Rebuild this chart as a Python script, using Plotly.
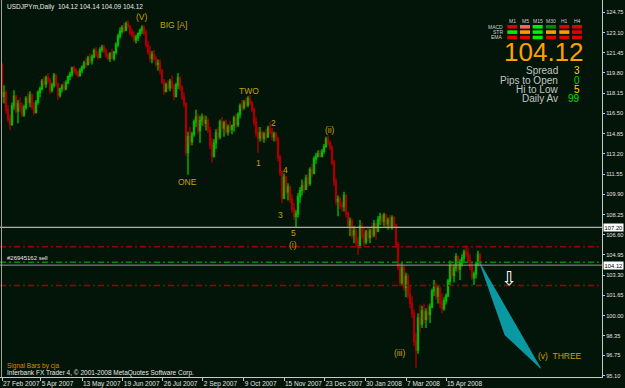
import plotly.graph_objects as go

# ---------------- data ----------------
FIRST_OPEN = 120.5
close = [
117.9, 118.2, 116.8, 116.0, 115.6, 117.1, 117.9, 116.7, 117.3, 117.0,
116.4, 117.0, 117.7, 117.4, 118.0, 117.0, 116.6, 117.4, 118.2, 118.5,
119.1, 118.9, 119.4, 119.2, 118.4, 118.8, 119.6, 118.9, 118.0, 118.5,
118.7, 118.5, 119.0, 119.5, 119.7, 120.2, 120.0, 119.8, 119.6, 120.0,
120.3, 120.6, 120.5, 121.0, 120.8, 121.1, 121.6, 121.3, 121.1, 121.7,
121.9, 121.6, 121.2, 121.0, 121.4, 121.0, 121.5, 122.1, 122.8, 123.2,
123.5, 123.3, 123.8, 123.6, 123.1, 122.9, 122.5, 122.7, 123.0, 123.3,
123.5, 123.1, 122.1, 121.5, 121.0, 121.3, 121.0, 120.5, 120.6, 120.0,
119.1, 118.3, 118.8, 118.6, 119.1, 118.7, 117.9, 118.8, 119.4, 118.6,
117.8, 117.3, 113.3, 114.6, 114.2, 114.8, 115.8, 116.2, 115.1, 115.9,
116.2, 115.7, 115.9, 115.1, 113.9, 113.0, 114.1, 114.9, 114.6, 115.8,
115.3, 115.7, 115.0, 115.4, 115.2, 115.5, 116.1, 115.6, 116.4, 117.1,
117.0, 117.4, 117.2, 117.7, 117.4, 116.8, 115.8, 114.9, 114.5, 114.9,
114.5, 114.8, 114.6, 115.3, 115.0, 114.6, 114.8, 114.4, 112.9, 111.7,
109.6, 111.3, 110.1, 110.5, 109.5, 108.7, 108.1, 108.3, 109.7, 110.2,
110.6, 110.3, 111.2, 110.8, 111.9, 111.6, 112.8, 113.0, 113.2, 113.0,
113.4, 113.8, 114.4, 114.1, 113.7, 112.5, 110.9, 109.3, 109.5, 109.0,
108.9, 109.8, 108.3, 107.4, 107.7, 106.6, 106.9, 106.0, 105.6, 107.3,
106.6, 106.0, 106.8, 106.4, 106.9, 106.6, 107.5, 106.9, 107.8, 108.1,
107.7, 108.2, 107.5, 107.8, 107.3, 108.0, 107.4, 105.8, 104.0, 102.7,
103.9, 102.3, 103.2, 101.7, 101.0, 100.2, 97.9, 97.2, 99.8, 99.3,
100.4, 99.7, 100.3, 100.1, 100.7, 102.0, 102.3, 101.6, 102.2, 101.0,
100.6, 101.2, 101.6, 102.8, 104.1, 103.3, 103.9, 104.8, 103.8, 104.3,
104.7, 105.2, 105.1, 104.5, 104.0, 103.1, 103.4, 104.2, 105.0, 104.12,
104.12]
high = [
120.6, 118.8, 118.4, 117.2, 116.4, 117.4, 118.4, 118.0, 117.6, 117.8,
117.4, 117.2, 117.9, 118.2, 118.3, 118.1, 117.4, 117.6, 118.4, 118.7,
119.3, 119.5, 119.6, 119.8, 119.4, 119.0, 119.8, 119.7, 119.0, 118.6,
118.9, 119.1, 119.2, 119.6, 119.9, 120.3, 120.4, 120.2, 120.0, 120.2,
120.4, 120.8, 121.0, 121.2, 121.4, 121.3, 121.8, 121.9, 121.6, 121.9,
122.1, 122.1, 121.8, 121.4, 121.5, 121.8, 121.6, 122.3, 123.0, 123.5,
123.7, 123.9, 124.0, 124.1, 123.7, 123.4, 123.2, 122.9, 123.1, 123.4,
123.7, 123.7, 123.3, 122.4, 122.0, 121.6, 121.7, 121.2, 120.9, 120.9,
120.1, 119.3, 119.0, 119.2, 119.3, 119.6, 118.9, 119.0, 119.8, 119.5,
118.8, 118.2, 117.4, 115.0, 115.4, 115.0, 116.0, 116.8, 116.5, 116.3,
116.5, 116.4, 116.3, 116.1, 115.4, 114.5, 114.4, 115.2, 115.4, 116.0,
116.2, 115.9, 116.0, 115.6, 115.9, 115.6, 116.3, 116.5, 116.6, 117.3,
117.6, 117.6, 117.8, 117.9, 118.0, 117.5, 117.0, 116.2, 115.4, 115.4,
115.1, 115.0, 115.2, 115.5, 115.8, 115.3, 115.0, 115.0, 114.6, 113.1,
111.8, 111.6, 111.4, 110.8, 110.6, 109.9, 109.2, 108.6, 110.0, 110.5,
111.1, 111.0, 111.5, 111.6, 112.1, 112.4, 113.0, 113.3, 113.5, 113.5,
113.6, 114.0, 114.6, 114.7, 114.3, 113.9, 112.7, 111.2, 109.8, 109.7,
109.3, 110.1, 109.9, 108.5, 108.0, 107.9, 107.3, 107.2, 106.4, 107.8,
107.6, 107.2, 107.0, 107.3, 107.1, 107.4, 107.8, 107.6, 108.1, 108.4,
108.3, 108.4, 108.3, 108.0, 108.2, 108.2, 108.1, 107.5, 106.0, 104.3,
104.3, 104.1, 103.5, 103.4, 102.5, 101.6, 100.5, 98.6, 100.2, 100.9,
100.8, 101.0, 100.6, 100.9, 101.0, 102.2, 102.9, 102.7, 102.5, 102.4,
101.8, 101.5, 101.8, 103.0, 104.5, 104.4, 104.2, 105.1, 104.9, 104.6,
105.0, 105.4, 105.75, 105.5, 105.0, 104.3, 103.6, 104.4, 105.3, 105.1,
104.14]
low = [
117.4, 117.3, 116.5, 115.8, 115.15, 115.5, 116.8, 116.5, 115.7, 116.6,
116.2, 116.2, 116.8, 117.2, 117.0, 116.8, 116.35, 116.5, 117.2, 117.8,
118.4, 118.7, 118.6, 119.0, 118.1, 118.2, 118.6, 118.7, 117.6, 117.8,
118.2, 118.3, 118.4, 118.9, 119.2, 119.5, 119.8, 119.6, 119.4, 119.5,
119.8, 120.1, 120.2, 120.4, 120.6, 120.5, 121.0, 121.1, 120.9, 121.0,
121.5, 121.4, 121.0, 120.8, 120.7, 120.9, 120.8, 121.3, 121.9, 122.6,
123.0, 123.1, 123.2, 123.4, 122.9, 122.7, 122.3, 122.2, 122.4, 122.8,
123.0, 122.9, 121.9, 121.3, 120.7, 120.6, 120.8, 120.3, 120.0, 119.7,
118.9, 118.0, 118.2, 118.4, 118.3, 118.5, 117.6, 117.8, 118.5, 118.4,
117.6, 117.0, 113.0, 111.5, 113.8, 113.9, 114.6, 115.4, 114.8, 114.1,
115.5, 115.4, 115.1, 114.9, 113.6, 112.5, 112.9, 113.6, 114.3, 114.4,
115.0, 114.6, 114.8, 114.7, 114.9, 114.8, 115.0, 115.3, 115.4, 116.1,
116.7, 116.8, 117.0, 117.0, 117.2, 116.6, 115.5, 114.6, 113.3, 114.2,
114.2, 114.1, 114.3, 114.5, 114.8, 114.3, 114.2, 114.2, 112.6, 111.4,
109.2, 109.5, 109.8, 109.4, 109.2, 108.4, 107.8, 107.2, 108.0, 109.2,
109.8, 110.0, 110.3, 110.5, 110.6, 111.3, 111.6, 112.4, 112.9, 112.9,
112.9, 113.2, 113.7, 113.9, 113.5, 112.3, 110.6, 109.0, 108.1, 108.7,
108.5, 108.5, 108.0, 107.1, 106.5, 106.3, 105.9, 105.7, 104.95, 105.5,
106.3, 105.6, 105.8, 106.1, 105.9, 106.3, 106.4, 106.2, 106.8, 107.4,
107.4, 107.3, 107.2, 107.0, 107.1, 107.0, 107.2, 105.5, 103.7, 102.4,
102.5, 102.0, 101.5, 101.4, 100.6, 99.8, 97.5, 95.75, 96.9, 98.6,
99.0, 99.4, 99.0, 99.6, 99.4, 100.6, 101.6, 101.3, 101.0, 100.6,
100.2, 100.4, 100.9, 101.5, 102.5, 103.0, 102.7, 103.6, 103.5, 102.9,
104.0, 104.4, 104.8, 104.3, 103.7, 102.9, 102.5, 103.0, 104.0, 104.0,
104.09]

date_labels = ["27 Feb 2007", "5 Apr 2007", "13 May 2007", "19 Jun 2007", "26 Jul 2007",
               "2 Sep 2007", "9 Oct 2007", "15 Nov 2007", "23 Dec 2007", "30 Jan 2008",
               "7 Mar 2008", "15 Apr 2008"]
date_bars = [0, 19.4, 40, 60.4, 80.4, 100.4, 120.9, 141, 161.2, 181.5, 202, 222]
price_ticks = ["95.10", "96.75", "98.35", "100.00", "101.65", "103.30", "104.95", "106.60",
               "108.25", "109.90", "111.55", "113.20", "114.85", "116.50", "118.15",
               "119.80", "121.45", "123.10", "124.75"]

level_107 = 107.20
bid = 104.12
red_upper = 105.62
green_order = 104.35
red_lower = 102.46

wave_labels = [("(V)", 69.8, 124.33), ("BIG [A]", 85.5, 123.75), ("ONE", 92.5, 110.9),
               ("TWO", 123.5, 118.33), ("2", 135.5, 115.72), ("1", 128, 112.45),
               ("4", 141.5, 111.88), ("3", 139, 108.21), ("5", 145.5, 106.74),
               ("(i)", 145.5, 105.76), ("(ii)", 164, 115.15), ("(iii)", 198.5, 96.95),
               ("(v)  THREE", 279, 96.71)]
triangle = [(239, 104.27), (251.5, 98.42), (269.3, 95.71)]
arrow_at = (253.5, 103.1)

tf_cols = ["M1", "M5", "M15", "M30", "H1", "H4"]
tf_rows = ["MACD", "STR", "EMA"]
R, S, G, DG, O = "#e00000", "#ff6650", "#00f000", "#008a00", "#ff9a00"
tf_colors = [[R, S, G, DG, R, R],
             [G, O, G, O, O, R],
             [R, R, G, R, R, R]]
stats = [("Spread", "3", "#ffd200"), ("Pips to Open", "0", "#00d000"),
         ("Hi to Low", "5", "#ffd200"), ("Daily Av", "99", "#00e000")]

# ---------------- build ----------------
opens = [FIRST_OPEN] + close[:-1]
hi = [max(h, o, c) for h, o, c in zip(high, opens, close)]
lo = [min(l, o, c) for l, o, c in zip(low, opens, close)]
idx = list(range(len(close)))

BG = "#031409"
GREEN = "#00b800"
RED = "#a80000"
GOLD = "#c8a200"
AXIS = "#c8c8c8"
W, H = 625, 388
PW, PH = 602, 377

def px(x):
    return x / PW

def py(y):
    return 1 - y / PH

fig = go.Figure()
fig.add_trace(go.Candlestick(
    x=idx, open=opens, high=hi, low=lo, close=close,
    increasing=dict(line=dict(color=GREEN, width=1.4), fillcolor=GREEN),
    decreasing=dict(line=dict(color=RED, width=1.4), fillcolor=RED),
    whiskerwidth=0, hoverinfo="skip", showlegend=False))

shapes = []
def hline(yv, color, dash="solid", width=1):
    shapes.append(dict(type="line", xref="paper", x0=0, x1=1, yref="y", y0=yv, y1=yv,
                       line=dict(color=color, width=width, dash=dash), layer="above"))

hline(red_upper, "#a00000", "6px,3px,2px,3px", 1.5)
hline(green_order, "#008c00", "6px,3px,2px,3px", 1.5)
hline(red_lower, "#a00000", "6px,3px,2px,3px", 1.5)
hline(level_107, "#b0b0b0", "solid", 1.3)
hline(bid, "#9c9c9c", "solid", 1)

tri = "M " + " L ".join(f"{a},{b}" for a, b in triangle) + " Z"
shapes.append(dict(type="path", path=tri, xref="x", yref="y",
                   fillcolor="#0a98a2", line=dict(color="#18b0b8", width=0.6), layer="above"))
# left border
shapes.append(dict(type="line", xref="paper", yref="paper", x0=px(1.5), x1=px(1.5), y0=0, y1=1,
                   line=dict(color="#a0a0a0", width=1)))

# indicator cells
col_x = [507.3, 520.0, 532.7, 546.0, 559.3, 572.0]
row_y = [25.0, 30.3, 35.7]
for r, row in enumerate(tf_colors):
    for c, colr in enumerate(row):
        shapes.append(dict(type="rect", xref="paper", yref="paper",
                           x0=px(col_x[c]), x1=px(col_x[c] + 10),
                           y0=py(row_y[r] + 3.6), y1=py(row_y[r]),
                           fillcolor=colr, line=dict(width=0), layer="above"))

ann = []
def note(x, y, text, size, color, xanchor="center", xref="paper", yref="paper",
         family="Liberation Sans", **kw):
    ann.append(dict(x=x, y=y, xref=xref, yref=yref, text=text, showarrow=False,
                    xanchor=xanchor, yanchor="middle",
                    font=dict(family=family, size=size, color=color), **kw))

for text, bx, pr in wave_labels:
    note(bx, pr, text, 8.5, GOLD, xref="x", yref="y")
note(arrow_at[0], arrow_at[1], "⇩", 19, "white", xref="x", yref="y", family="DejaVu Sans")

note(px(5), py(7), "USDJPYm,Daily  104.12 104.14 104.09 104.12", 6.5, "#e8e8e8", xanchor="left")
note(px(5), green_order, "#26945162 sell", 6, "#e8e8e8", xanchor="left", yref="y", yshift=4)
note(px(5), py(365.5), "Signal Bars by cja", 6.5, "#d88a00", xanchor="left")
note(px(5), py(372.5), "Interbank FX Trader 4, © 2001-2008 MetaQuotes Software Corp.", 6.5,
     "#e8e8e8", xanchor="left")

for c, name in enumerate(tf_cols):
    note(px(col_x[c] + 5), py(20.5), name, 5, "#d0d0d0")
for r, name in enumerate(tf_rows):
    note(px(505), py(row_y[r] + 1.8), name, 5, "#d0d0d0", xanchor="right")

note(px(544), py(52), "104.12", 26, "#ffa000")
for k, (lab, val, vc) in enumerate(stats):
    yy = py(71 + k * 9.3)
    note(px(560), yy, lab, 10, "#c4c4c4", xanchor="right")
    note(px(581.5), yy, val, 10, vc, xanchor="right")

for v in (level_107, bid):
    note(1, v, f"{v:.2f}", 5.8, "#000000", xanchor="left", yref="y", xshift=1,
         bgcolor="#ffffff", borderpad=0.6)

fig.update_layout(
    width=W, height=H, margin=dict(l=0, r=W - PW, t=0, b=H - PH, autoexpand=False),
    paper_bgcolor=BG, plot_bgcolor=BG, shapes=shapes, annotations=ann,
    showlegend=False,
    xaxis=dict(range=[-1, 300], rangeslider=dict(visible=False), showgrid=False, zeroline=False,
               tickvals=date_bars, ticktext=date_labels, ticks="outside", ticklen=3,
               tickcolor=AXIS, showline=True, linecolor=AXIS, linewidth=1,
               ticklabelposition="outside right", tickangle=0, automargin=False,
               tickfont=dict(family="Liberation Sans", size=6.5, color="#e0e0e0")),
    yaxis=dict(range=[94.993, 125.754], side="right", showgrid=False, zeroline=False,
               tickvals=[float(t) for t in price_ticks], ticktext=price_ticks, automargin=False,
               ticks="outside", ticklen=2, tickcolor=AXIS, showline=True, linecolor=AXIS,
               linewidth=1, tickfont=dict(family="Liberation Sans", size=5.7, color="#e0e0e0")),
)
fig.write_html("out.html")
